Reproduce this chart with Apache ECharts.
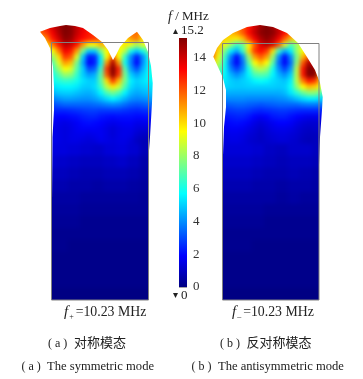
<!DOCTYPE html>
<html>
<head>
<meta charset="utf-8">
<style>
  html, body { margin: 0; padding: 0; background: #fff; }
  #heatClip { position: absolute; left: 0; top: 0; width: 363px; height: 379px; }
  #heatChart { width: 363px; height: 379px; filter: blur(2.2px); }
  #mainChart { position: absolute; left: 0; top: 0; width: 363px; height: 379px; }
</style>
</head>
<body>
<div id="heatClip"><div id="heatChart"></div></div>
<div id="mainChart"></div>
<script src="https://cdn.jsdelivr.net/npm/echarts@6/dist/echarts.min.js"></script>
<script>
// 色标
const jetColors = ['#000083', '#0000ff', '#0080ff', '#00ffff', '#80ff80', '#ffff00', '#ff8000', '#ff0000', '#800000'];
const colorbarTicks = [0, 2, 4, 6, 8, 10, 12, 14];
const colorbarMax = 15.2;

// (a) 对称模态 上部 6px 一格
const symTop = [
  [12,12,13,14,14.5,15,15,14,13.5,13,12,11,10,9,10,11,11,11,10,9,8],
  [12,12,13,14,14.7,15.2,15,14.2,13.6,13,12.3,11,10,9,10,11,11.5,11.5,10.5,9,8],
  [11,12,12.5,13.5,14.5,15.2,15,14.2,13.5,13,12.5,11.5,10,9,10,11,11.7,11.7,10.5,9,8],
  [10,10.5,11.5,13,14,15,14.8,13.8,13.2,12.8,12.5,11.8,10.5,9.5,9.5,9.8,11,11.5,10,9,8],
  [9,9,10,11.5,13,14.3,14,13,11,9.5,9.5,10.5,10.5,10,9.5,9.8,9.2,8.2,9,9,8],
  [8,8,8.5,9.5,11.5,13.5,13,11,7.5,5,5,7.5,9.5,10.5,9.5,8.5,6,5,6,7.5,8],
  [8,8,8,8,10,12.5,12,9,5,2.3,2.5,5.5,9.5,12,9.5,6.5,4,2.3,4,6,7],
  [7,7,7,7,9,11,10.5,7.5,4.5,1.9,2.3,5.5,11,14.5,11,6,3.8,1.9,4,5.8,6.5],
  [6.5,6.5,6.5,6.5,8,9.5,9,7,5,3,3.3,6.5,12.5,15.2,12.8,7,4.2,3,4.5,5.8,6.2],
  [6,6,6,6,7,8,7.8,6.5,5,4.2,4.5,7,12,15,12.5,7.5,5,4.3,5,5.8,6],
  [5.8,5.8,5.8,5.8,6.2,6.5,6.4,6,5.3,5,5,7,10,12.5,10.5,7.5,5.5,5,5.3,5.6,5.8],
  [5.2,5.2,5.2,5.2,5.5,5.6,5.6,5.4,5,4.9,5.2,6.5,8.5,9.8,8.8,6.8,5.2,4.8,5,5.2,5.4],
  [4.6,4.6,4.6,4.6,4.9,5,5,4.8,4.6,4.5,4.8,5.6,6.8,7.4,6.8,5.6,4.7,4.4,4.6,4.8,5],
  [3.8,3.8,3.8,3.8,4.1,4.3,4.3,4.2,4.1,4.1,4.3,4.7,5.2,5.6,5.2,4.6,4.1,3.9,4,4.2,4.4],
  [3,3,3,3,3.2,3.4,3.4,3.4,3.4,3.4,3.5,3.6,3.8,3.9,3.8,3.5,3.2,3.1,3.2,3.4,3.6],
  [2.4,2.4,2.4,2.4,2.4,2.4,2.5,2.6,2.7,2.8,2.8,2.7,2.7,2.7,2.7,2.6,2.5,2.4,2.5,2.6,2.8],
  [2,2,2,2,1.9,1.9,2,2.1,2.3,2.4,2.4,2.2,2.1,2,2.1,2.1,2.1,2,2,2.1,2.2],
  [1.7,1.7,1.7,1.7,1.6,1.5,1.6,1.8,2,2.1,2,1.9,1.7,1.6,1.7,1.8,1.8,1.6,1.6,1.7,1.7],
  [1.6,1.6,1.6,1.6,1.5,1.4,1.5,1.7,1.8,1.8,1.8,1.7,1.5,1.3,1.5,1.6,1.6,1.4,1.3,1.3,1.3],
  [1.6,1.6,1.6,1.6,1.5,1.4,1.5,1.6,1.6,1.5,1.6,1.7,1.5,1.3,1.5,1.6,1.5,1.2,1,1,1],
  [1.6,1.6,1.6,1.6,1.5,1.4,1.5,1.5,1.4,1.3,1.4,1.6,1.5,1.4,1.5,1.5,1.3,1,0.8,0.8,0.8]
];
// (a) 下部 12px 一格
const symLow = [
  [1.4,1.4,1.4,1.3,1.2,1.1,1.3,1.4,1.2,0.8,0.7],
  [1.2,1.2,1.1,1,0.9,0.9,1,1.1,0.9,0.6,0.6],
  [0.9,0.9,0.9,0.8,0.7,0.7,0.8,0.8,0.7,0.5,0.5],
  [0.7,0.7,0.7,0.6,0.6,0.5,0.6,0.6,0.5,0.4,0.4],
  [0.5,0.5,0.5,0.5,0.4,0.4,0.4,0.4,0.4,0.3,0.3],
  [0.4,0.4,0.4,0.4,0.3,0.3,0.3,0.3,0.3,0.3,0.3],
  [0.3,0.3,0.3,0.3,0.2,0.2,0.2,0.2,0.2,0.2,0.2],
  [0.2,0.2,0.2,0.2,0.2,0.2,0.2,0.2,0.2,0.2,0.2],
  [0.2,0.2,0.2,0.1,0.1,0.1,0.1,0.1,0.1,0.1,0.1],
  [0.1,0.1,0.1,0.1,0.1,0.1,0.1,0.1,0.1,0.1,0.1],
  [0.1,0.1,0.1,0.1,0.1,0.1,0.1,0.1,0.1,0.1,0.1],
  [0.1,0.1,0.1,0.1,0.1,0.1,0.1,0.1,0.1,0.1,0.1],
  [0,0,0,0,0,0,0,0,0,0,0],
  [0,0,0,0,0,0,0,0,0,0,0]
];
// (b) 反对称模态 上部
const antiTop = [
  [10,10,10,10,10.5,11,12,13,14,14.8,15.2,14.8,14,13,12,11,10,10,10,10,10],
  [10,10,10,10,10.5,11,12,13,14,14.8,15.2,14.8,14,13,12,11,10,10,10,10,10],
  [10.5,10.5,10.5,10.5,10.5,11,12,13.2,14.2,15,15.2,15,14.2,13.2,12,11,10.5,10,10,10,10],
  [11,10.5,10.5,10.2,10,9.8,10.5,12.2,13.5,14.5,15,14.5,13.5,12,10.5,9.8,9.5,9.5,9.5,9.5,9.5],
  [11.5,11,10.5,9.2,8,6.5,7.2,9.5,12,13.8,14.3,13.8,12,9,6.8,8,9,9.5,9.5,9.5,9.5],
  [12,11.5,10,7.5,5.5,4.5,6.5,10,12.5,13.2,12.5,10,6.5,4.5,5.5,8,9.5,10,9.5,9,8],
  [12,11.5,9.2,6.5,3.8,2,4,8,11,12,11,8,4,2,4,7.5,10.5,12,11,9,8],
  [11,10,8.5,6,3.3,1.8,3.5,7,9.5,10.5,9.5,7,3.5,1.8,3.5,7.8,12,14.5,13.8,10.5,8],
  [10,9,7.5,5.8,3.8,2.8,3.8,6,8,8.5,8,6,4,2.8,4.2,8.5,13,15.2,15,11.5,8],
  [8,7,6.5,5.6,4.6,4,4.6,5.6,6.8,7,6.8,5.6,4.6,4,5,8.5,13,15.2,15,11,8],
  [7,6.5,6,5.4,5,4.8,5,5.2,5.6,5.8,5.6,5.2,5,4.8,5.5,8.5,11.5,13,12.5,10,7.5],
  [6,5.6,5.3,5.1,5,4.9,4.9,5,5,5,5,5,4.9,5,5.8,7.8,9.5,10.5,10.2,9,7],
  [5,4.8,4.7,4.6,4.5,4.5,4.5,4.5,4.5,4.5,4.5,4.5,4.5,4.7,5.4,6.3,7.2,7.8,7.8,7,6],
  [4.2,4,4,4,4,4,4,3.9,3.9,3.9,3.9,3.9,4,4.1,4.4,4.8,5.2,5.5,5.5,5.2,4.8],
  [3.4,3.2,3.2,3.2,3.3,3.4,3.4,3.3,3.2,3.1,3.2,3.3,3.4,3.4,3.4,3.4,3.6,3.7,3.7,3.6,3.6],
  [2.8,2.6,2.6,2.6,2.7,2.8,2.8,2.7,2.5,2.4,2.5,2.6,2.7,2.7,2.6,2.5,2.4,2.4,2.4,2.4,2.4],
  [2.4,2.2,2.2,2.2,2.3,2.4,2.4,2.2,1.9,1.7,1.9,2.2,2.3,2.3,2.1,1.9,1.7,1.6,1.6,1.7,1.7],
  [2,1.9,1.9,1.9,2,2.1,2,1.8,1.5,1.3,1.5,1.7,1.9,1.9,1.8,1.5,1.3,1.2,1.2,1.3,1.3],
  [1.8,1.7,1.7,1.7,1.8,1.8,1.7,1.5,1.3,1.1,1.3,1.5,1.6,1.6,1.5,1.3,1.1,1,1.1,1.1,1.1],
  [1.6,1.5,1.5,1.5,1.6,1.6,1.5,1.3,1.2,1,1.2,1.3,1.4,1.4,1.3,1.2,1,0.9,0.9,1,1],
  [1.5,1.4,1.4,1.4,1.5,1.5,1.4,1.2,1.1,1,1.1,1.2,1.3,1.3,1.2,1.1,0.9,0.8,0.9,0.9,0.9]
];
// (b) 下部
const antiLow = [
  [1.3,1.3,1.3,1.3,1.2,1,0.9,1.1,1.1,0.9,0.8],
  [1.1,1.1,1.1,1.1,1,0.9,0.8,0.9,0.9,0.8,0.7],
  [0.9,0.9,0.9,0.9,0.8,0.7,0.7,0.8,0.7,0.6,0.6],
  [0.7,0.7,0.7,0.7,0.6,0.6,0.5,0.6,0.6,0.5,0.5],
  [0.5,0.5,0.5,0.5,0.5,0.5,0.4,0.5,0.4,0.4,0.4],
  [0.4,0.4,0.4,0.4,0.4,0.3,0.3,0.3,0.3,0.3,0.3],
  [0.3,0.3,0.3,0.3,0.3,0.2,0.2,0.2,0.2,0.2,0.2],
  [0.2,0.2,0.2,0.2,0.2,0.2,0.2,0.2,0.2,0.2,0.2],
  [0.2,0.2,0.2,0.2,0.1,0.1,0.1,0.1,0.1,0.1,0.1],
  [0.1,0.1,0.1,0.1,0.1,0.1,0.1,0.1,0.1,0.1,0.1],
  [0.1,0.1,0.1,0.1,0.1,0.1,0.1,0.1,0.1,0.1,0.1],
  [0.1,0.1,0.1,0.1,0.1,0.1,0.1,0.1,0.1,0.1,0.1],
  [0,0,0,0,0,0,0,0,0,0,0],
  [0,0,0,0,0,0,0,0,0,0,0]
];

// 变形后轮廓
const symOutline = 'M40 31.7 L50 28 L60 26 L66 25 L75 26 L83 28 L93 35 L102 42 L108 50 L113 60 L116 55 L120 47 L128 38 L137 31.7 L143 40 L148 52 L151 66 L152.7 83 L152 103 L150 137 L148.3 160 L148.3 300 L51.7 300 L52 200 L52.5 137 L54 110 L54 87 L53 67 L50 48 L45 38 Z';
const antiOutline = 'M213.3 56.7 L217 48 L223 40 L233 33 L247 27 L260 25 L273 27 L287 33 L298 43 L307 57 L315 70 L320 83 L322.7 97 L322 110 L320 137 L319 165 L319 300 L222 300 L222.3 175 L224 127 L226 107 L226 90 L223 78 L218 67 Z';

// 热图 4 块网格：左上 左下 右上 右下
const heatBlocks = [
  {rows: symTop, left: 32, top: 18, cell: 6},
  {rows: symLow, left: 32, top: 144, cell: 12},
  {rows: antiTop, left: 204, top: 18, cell: 6},
  {rows: antiLow, left: 204, top: 144, cell: 12}
];

function toCells(rows) {
  let cells = [];
  rows.forEach((row, y) => row.forEach((v, x) => cells.push([x, y, v])));
  return cells;
}

function initHeat() {
  document.getElementById('heatClip').style.clipPath = "path('" + symOutline + ' ' + antiOutline + "')";
  const chart = echarts.init(document.getElementById('heatChart'));
  chart.setOption({
    animation: false,
    grid: heatBlocks.map(b => ({
      left: b.left, top: b.top,
      width: b.rows[0].length * b.cell, height: b.rows.length * b.cell
    })),
    xAxis: heatBlocks.map((b, i) => ({
      type: 'category', gridIndex: i, show: false,
      data: b.rows[0].map((v, k) => k)
    })),
    yAxis: heatBlocks.map((b, i) => ({
      type: 'category', gridIndex: i, show: false, inverse: true,
      data: b.rows.map((v, k) => k)
    })),
    visualMap: {
      show: false, min: 0, max: colorbarMax,
      seriesIndex: [0, 1, 2, 3],
      inRange: {color: jetColors}
    },
    series: heatBlocks.map((b, i) => ({
      type: 'heatmap', xAxisIndex: i, yAxisIndex: i,
      progressive: 0,
      data: toCells(b.rows)
    }))
  });
}

const serif = '"Liberation Serif", serif';
const cjk = '"Noto Sans CJK SC", sans-serif';

function label(x, y, text, size, extra) {
  return {
    type: 'text', x: x, y: y, z: 10,
    style: Object.assign({
      text: text, fontFamily: serif, fontSize: size, fill: '#222',
      textVerticalAlign: 'middle', verticalAlign: 'middle'
    }, extra || {})
  };
}

function freqRich() {
  return {
    i: {fontFamily: serif, fontStyle: 'italic', fontSize: 15, fill: '#222'},
    s: {fontFamily: serif, fontSize: 8, fill: '#222', padding: [9, 0, 0, 1]},
    n: {fontFamily: serif, fontSize: 13.8, fill: '#222', padding: [0, 0, 0, 2]}
  };
}

function initMain() {
  const chart = echarts.init(document.getElementById('mainChart'));
  chart.setOption({
    animation: false,
    grid: {left: 179, top: 38, width: 8, height: 249},
    xAxis: {type: 'category', show: false, data: ['f']},
    yAxis: {
      type: 'value', position: 'right', min: 0, max: colorbarMax,
      splitLine: {show: false},
      axisLine: {show: false},
      axisTick: {show: true, inside: true, length: 8, customValues: colorbarTicks, lineStyle: {color: 'rgba(0,0,0,0.35)'}},
      axisLabel: {margin: 6, customValues: colorbarTicks, fontFamily: serif, fontSize: 13, color: '#333'}
    },
    series: [{
      type: 'bar', barWidth: 8, silent: true,
      data: [colorbarMax],
      itemStyle: {
        color: new echarts.graphic.LinearGradient(0, 1, 0, 0,
          jetColors.map((c, i) => ({offset: i / (jetColors.length - 1), color: c})))
      }
    }],
    graphic: [
      {type: 'rect', shape: {x: 51.5, y: 42.5, width: 97, height: 257.5}, style: {fill: 'none', stroke: '#808080', lineWidth: 1}, z: 5},
      {type: 'rect', shape: {x: 222.5, y: 43.5, width: 96.5, height: 256.5}, style: {fill: 'none', stroke: '#808080', lineWidth: 1}, z: 5},
      {type: 'polygon', shape: {points: [[173, 34], [178, 34], [175.5, 29]]}, style: {fill: '#222'}},
      {type: 'polygon', shape: {points: [[173, 293], [178, 293], [175.5, 298]]}, style: {fill: '#222'}},
      label(168, 17, '{i|f} / MHz', 13, {rich: {i: {fontFamily: serif, fontStyle: 'italic', fontSize: 14, fill: '#222'}}}),
      label(181, 31, '15.2', 13),
      label(181, 296, '0', 13),
      label(64, 312, '{i|f}{s|+}{n|=10.23 MHz}', 13.8, {rich: freqRich()}),
      label(232, 312, '{i|f}{s|–}{n|=10.23 MHz}', 13.8, {rich: freqRich()}),
      label(48, 344, '( a )', 12),
      label(74, 342, '对称模态', 13, {fontFamily: cjk}),
      label(220, 344, '( b )', 12),
      label(246.5, 342, '反对称模态', 13, {fontFamily: cjk}),
      label(21.5, 367, '( a )', 12),
      label(47, 367, 'The symmetric mode', 12.6),
      label(191.5, 367, '( b )', 12),
      label(218, 367, 'The antisymmetric mode', 12.6)
    ]
  });
}

initHeat();
initMain();
</script>
</body>
</html>
